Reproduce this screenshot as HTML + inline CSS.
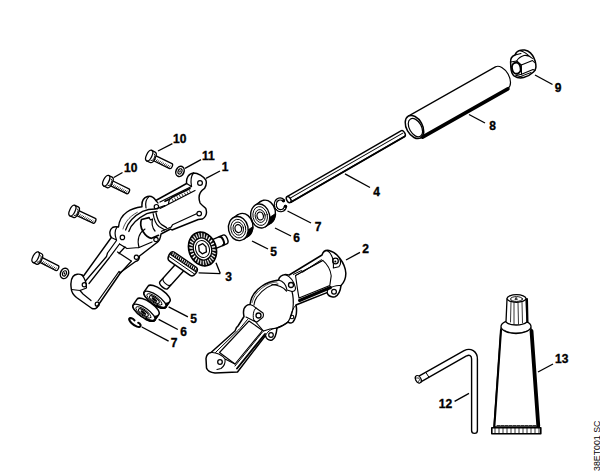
<!DOCTYPE html>
<html><head><meta charset="utf-8">
<style>
html,body{margin:0;padding:0;background:#fff;}
svg{display:block;}
text{font-family:"Liberation Sans",sans-serif;font-weight:bold;font-size:12px;fill:#000;stroke:#000;stroke-width:0.35px;}
</style></head><body>
<svg width="600" height="472" viewBox="0 0 600 472">
<g fill="none" stroke="#000" stroke-width="1.2" stroke-linejoin="round" stroke-linecap="round">

<!-- ===== Tube 8 ===== -->
<g transform="translate(414.5,127) rotate(-29.5)">
  <path d="M0,-12.5 L100,-12.5 A7.5,12.5 0 0 1 100,12.5 L0,12.5" fill="#fff"/>
  <path d="M2,12.8 L100,12.8" stroke-width="3.6"/>
  <ellipse cx="0" cy="0" rx="8" ry="12.5" fill="#fff" stroke-width="1.5"/>
  <ellipse cx="0.5" cy="1" rx="6" ry="10"/>
</g>

<!-- ===== Nut 9 ===== -->
<path d="M510.6,62 C510.3,58.5 512.5,56 515,55 C516,52.5 517.5,51 519.5,50.5 C522,49.5 527,49.5 530.4,52.9 C533,55.5 535,59 535.8,64.3 C536.2,67 535.6,70 533.5,72 C531,74.5 527,76.5 523.6,77.5 C520,78.5 516.5,77.5 514,75.8 C511.8,74 511,71 510.8,67 Z" fill="#fff" stroke-width="1.5"/>
<path d="M510.6,62 L516.7,61 L521.3,65 L521.5,74.3 L516,75.5" stroke-width="1.1"/>
<path d="M515,55 L521,53.5 M516.7,61 C518,58.5 521,56.5 524,55.5 C527,55 530,56 532.5,58.5 M521.3,65 L532.5,60.5 L534.5,62.5 M521.5,74.3 L533,69.5 L535,70.5 M519.5,50.5 C523,51.5 527,53.5 529.5,56.5" stroke-width="1.05"/>
<path d="M516,75.5 L523.6,77.5 M520.5,76.5 L531,72.5" stroke-width="1"/>
<ellipse cx="516.3" cy="68.2" rx="4.3" ry="5.6" transform="rotate(-12 516.3 68.2)" fill="#fff" stroke-width="2"/>

<!-- ===== Rod 4 ===== -->
<g transform="translate(288.7,199.6) rotate(-30)">
  <path d="M0,-3.3 L132,-3.3 A1.8,3.3 0 0 1 132,3.3 L0,3.3" fill="#fff" stroke-width="1.45"/><path d="M1,3.4 L132,3.4" stroke-width="1.8"/>
  <path d="M2,-0.5 L132,-0.5" stroke-width="1"/>
  <ellipse cx="0" cy="0" rx="2" ry="3.3" fill="#fff" stroke-width="1.45"/>
</g>

<!-- ===== Circlip 7 upper ===== -->
<path d="M283.5,200.5 C281,198 276.5,198.5 275.5,203 C274.5,208 278,211.5 282,210.5 C284,210 285,208.5 285.5,206.5" stroke-width="3.2"/><path d="M283.5,200.5 C281,198 276.5,198.5 275.5,203 C274.5,208 278,211.5 282,210.5 C284,210 285,208.5 285.5,206.5" stroke="#fff" stroke-width="1"/><circle cx="283.5" cy="200.8" r="1.5" fill="#000" stroke="none"/><circle cx="285.5" cy="206.3" r="1.6" fill="#000" stroke="none"/>

<!-- ===== Bearing 6 upper ===== -->
<g><ellipse cx="266.00" cy="212.10" rx="9.4" ry="12.1" transform="rotate(-12 266.00 212.10)" fill="#fff" stroke-width="1.4"/>
<path d="M255.06,205.29 L260.86,201.39 L271.14,222.81 L265.34,226.71 Z" fill="#fff" stroke="none"/>
<path d="M255.06,205.29 L260.86,201.39 M265.34,226.71 L271.14,222.81" stroke-width="1.4"/>
<path d="M265.34,226.71 L271.14,222.81 L271.84,222.29 L272.50,221.67 L273.10,220.99 L273.64,220.23 L274.12,219.40 L274.54,218.51 L274.88,217.58 L275.16,216.60 L275.36,215.58 L275.48,214.53 L275.53,213.47 L269.73,217.37 L269.68,218.43 L269.56,219.48 L269.36,220.50 L269.08,221.48 L268.74,222.41 L268.32,223.30 L267.84,224.13 L267.30,224.89 L266.70,225.57 L266.04,226.19 L265.34,226.71Z" fill="#000" stroke="#000" stroke-width="0.8"/>
<ellipse cx="260.2" cy="216" rx="9.4" ry="12.1" transform="rotate(-12 260.2 216)" fill="#fff" stroke-width="1.4"/>
<ellipse cx="260.2" cy="216" rx="7.2" ry="9.5" transform="rotate(-12 260.2 216)" fill="none" stroke-width="0.9"/>
<ellipse cx="260.2" cy="216" rx="5" ry="6.5" transform="rotate(-12 260.2 216)" fill="none" stroke-width="0.9"/>
<ellipse cx="260.2" cy="216" rx="3.2" ry="4" transform="rotate(-12 260.2 216)" fill="none" stroke-width="1.2"/></g>
<!-- ===== Bearing 5 upper ===== -->
<g><ellipse cx="243.10" cy="225.40" rx="9.8" ry="12.1" transform="rotate(-12 243.10 225.40)" fill="#fff" stroke-width="1.4"/>
<path d="M232.97,217.96 L237.77,214.76 L248.43,236.04 L243.63,239.24 Z" fill="#fff" stroke="none"/>
<path d="M232.97,217.96 L237.77,214.76 M243.63,239.24 L248.43,236.04" stroke-width="1.4"/>
<path d="M243.63,239.24 L248.43,236.04 L249.16,235.50 L249.84,234.87 L250.47,234.17 L251.03,233.40 L251.54,232.56 L251.97,231.66 L252.33,230.72 L252.62,229.73 L252.83,228.70 L252.96,227.65 L253.01,226.58 L248.21,229.78 L248.16,230.85 L248.03,231.90 L247.82,232.93 L247.53,233.92 L247.17,234.86 L246.74,235.76 L246.23,236.60 L245.67,237.37 L245.04,238.07 L244.36,238.70 L243.63,239.24Z" fill="#000" stroke="#000" stroke-width="0.8"/>
<ellipse cx="238.3" cy="228.6" rx="9.8" ry="12.1" transform="rotate(-12 238.3 228.6)" fill="#fff" stroke-width="1.4"/>
<ellipse cx="238.3" cy="228.6" rx="7.4" ry="9.4" transform="rotate(-12 238.3 228.6)" fill="none" stroke-width="0.9"/>
<ellipse cx="238.3" cy="228.6" rx="5.2" ry="6.6" transform="rotate(-12 238.3 228.6)" fill="none" stroke-width="0.9"/>
<ellipse cx="238.3" cy="228.6" rx="3.3" ry="4" transform="rotate(-12 238.3 228.6)" fill="none" stroke-width="1.2"/></g>

<!-- ===== Upper crown gear 3 ===== -->
<g id="gear1">
  <g transform="translate(206,247.5) rotate(-23)">
    <path d="M0,-4.8 L20.5,-4.8 A2.6,4.8 0 0 1 20.5,4.8 L0,4.8 Z" fill="#fff" stroke-width="1.4"/>
    <path d="M16.5,-4.6 A2.3,4.6 0 0 1 16.5,4.6" stroke-width="2"/>
  </g>
  <g transform="translate(202.5,249) rotate(-19)">
    <ellipse rx="13.6" ry="17.3" fill="#fff" stroke-width="1.6"/>
    <path d="M9.00,-0.28 L13.58,-1.04 L13.58,1.04 L9.00,0.28Z M8.82,2.24 L13.42,2.85 L13.05,4.88 L8.72,2.79Z M8.20,4.65 L12.58,6.60 L11.88,8.48 L8.01,5.16Z M7.17,6.82 L11.12,10.01 L10.11,11.64 L6.89,7.26Z M5.79,8.66 L9.10,12.93 L7.83,14.23 L5.43,9.01Z M4.11,10.06 L6.62,15.20 L5.16,16.10 L3.70,10.30Z M2.22,10.95 L3.82,16.70 L2.23,17.17 L1.78,11.08Z M0.22,11.30 L0.82,17.37 L-0.82,17.37 L-0.22,11.30Z M-1.78,11.08 L-2.23,17.17 L-3.82,16.70 L-2.22,10.95Z M-3.70,10.30 L-5.16,16.10 L-6.62,15.20 L-4.11,10.06Z M-5.43,9.01 L-7.83,14.23 L-9.10,12.93 L-5.79,8.66Z M-6.89,7.26 L-10.11,11.64 L-11.12,10.01 L-7.17,6.82Z M-8.01,5.16 L-11.88,8.48 L-12.58,6.60 L-8.20,4.65Z M-8.72,2.79 L-13.05,4.88 L-13.42,2.85 L-8.82,2.24Z M-9.00,0.28 L-13.58,1.04 L-13.58,-1.04 L-9.00,-0.28Z M-8.82,-2.24 L-13.42,-2.85 L-13.05,-4.88 L-8.72,-2.79Z M-8.20,-4.65 L-12.58,-6.60 L-11.88,-8.48 L-8.01,-5.16Z M-7.17,-6.82 L-11.12,-10.01 L-10.11,-11.64 L-6.89,-7.26Z M-5.79,-8.66 L-9.10,-12.93 L-7.83,-14.23 L-5.43,-9.01Z M-4.11,-10.06 L-6.62,-15.20 L-5.16,-16.10 L-3.70,-10.30Z M-2.22,-10.95 L-3.82,-16.70 L-2.23,-17.17 L-1.78,-11.08Z M-0.22,-11.30 L-0.82,-17.37 L0.82,-17.37 L0.22,-11.30Z M1.78,-11.08 L2.23,-17.17 L3.82,-16.70 L2.22,-10.95Z M3.70,-10.30 L5.16,-16.10 L6.62,-15.20 L4.11,-10.06Z M5.43,-9.01 L7.83,-14.23 L9.10,-12.93 L5.79,-8.66Z M6.89,-7.26 L10.11,-11.64 L11.12,-10.01 L7.17,-6.82Z M8.01,-5.16 L11.88,-8.48 L12.58,-6.60 L8.20,-4.65Z M8.72,-2.79 L13.05,-4.88 L13.42,-2.85 L8.82,-2.24Z" fill="#000" stroke="#000" stroke-width="0.4"/>
    <ellipse rx="9" ry="11.3" fill="#fff" stroke-width="1.3"/>
    <ellipse rx="6.8" ry="8.6" stroke-width="1"/>
    <path d="M-2.5,-4.5 L2,-5 L4,-1 L2.8,4 L-1.8,4.5 L-3.8,1 Z" stroke-width="1.3"/>
  </g>
</g>

<!-- ===== Lower pinion gear 3 ===== -->
<g id="gear2">
  <g transform="translate(181,266) rotate(132)">
    <path d="M0,-5.2 L25.5,-5.2 A2.6,5.2 0 0 1 25.5,5.2 L0,5.2 Z" fill="#fff" stroke-width="1.4"/>
    <path d="M21,-5 A2.5,5 0 0 1 21,5" stroke-width="1.1"/>
  </g>
  <g transform="translate(182.3,263.8) rotate(34.5)">
    <path d="M-16,-1.5 C-16,-4 -15,-5 -13,-5 L13.5,-5 C15.5,-5 16.5,-3 16.5,0 C16.5,3.5 15.5,5 13,5 L-12,5 C-14.5,5 -16,2.5 -16,-1.5 Z" fill="#fff" stroke-width="1.5"/>
    <path d="M-15.3,-1.5 C-15.3,-3.5 -14.5,-4.3 -13,-4.3 L13.5,-4.3 C15,-4.3 15.8,-3 15.8,-1 L15.8,-0.5 L-15.3,-0.5 Z" fill="#000" stroke="none"/>
    <path d="M-13.50,-3.9 l0.5,1.8 M-11.25,-3.9 l0.5,1.8 M-9.00,-3.9 l0.5,1.8 M-6.75,-3.9 l0.5,1.8 M-4.50,-3.9 l0.5,1.8 M-2.25,-3.9 l0.5,1.8 M0.00,-3.9 l0.5,1.8 M2.25,-3.9 l0.5,1.8 M4.50,-3.9 l0.5,1.8 M6.75,-3.9 l0.5,1.8 M9.00,-3.9 l0.5,1.8 M11.25,-3.9 l0.5,1.8 M13.50,-3.9 l0.5,1.8" stroke="#fff" stroke-width="0.9"/>
    <path d="M-15,1.5 L15.8,1.5" stroke-width="0.9"/>
  </g>
</g>

<!-- ===== Lower bearings ===== -->
<g transform="translate(155,299.5) rotate(35)">
  <path d="M-13.3,0 L-13.3,-7 A13.3,4.8 0 0 1 13.3,-7 L13.3,0 A13.3,4.8 0 0 1 -13.3,0 Z" fill="#fff" stroke-width="1.6"/>
  <path d="M13.3,-6.5 L13.3,0 A13.3,4.8 0 0 1 7,4.2 L7.8,-1.8 C10.5,-2.5 12.5,-4 13.3,-6.5 Z" fill="#000" stroke-width="1"/>
  <ellipse rx="13" ry="4.6" fill="#fff" stroke-width="1.3"/>
  <path d="M13,0 A13,4.6 0 0 1 5,4.2" stroke-width="2.4"/>
  <ellipse cx="-0.5" cy="0.3" rx="9" ry="3.1" stroke-width="0.9"/>
  <ellipse cx="-0.5" cy="0.4" rx="5.8" ry="2.1" stroke-width="1.1"/>
  <ellipse cx="-0.5" cy="0.4" rx="3" ry="1.1" fill="#000" stroke-width="0.6"/>
</g>
<g transform="translate(144,312.5) rotate(35)">
  <path d="M-13.3,0 L-13.3,-7 A13.3,4.8 0 0 1 13.3,-7 L13.3,0 A13.3,4.8 0 0 1 -13.3,0 Z" fill="#fff" stroke-width="1.6"/>
  <path d="M13.3,-6.5 L13.3,0 A13.3,4.8 0 0 1 7,4.2 L7.8,-1.8 C10.5,-2.5 12.5,-4 13.3,-6.5 Z" fill="#000" stroke-width="1"/>
  <ellipse rx="13" ry="4.6" fill="#fff" stroke-width="1.3"/>
  <path d="M13,0 A13,4.6 0 0 1 5,4.2" stroke-width="2.4"/>
  <ellipse cx="-0.5" cy="0.3" rx="9" ry="3.1" stroke-width="0.9"/>
  <ellipse cx="-0.5" cy="0.4" rx="5.8" ry="2.1" stroke-width="1.1"/>
  <ellipse cx="-0.5" cy="0.4" rx="3" ry="1.1" fill="#000" stroke-width="0.6"/>
</g>
<!-- circlip lower -->
<path d="M134.5,320.3 C133,318.3 130,317.5 129.2,318.8 C128.7,321 133,325 137,326.6 C139,327.4 141,327 140.6,325.2 C140.2,324 139.2,323 138.2,322.8" stroke-width="2.1"/>

<!-- ===== Housing 2 ===== -->
<g id="h2">
  <path d="M322,255 C323,251.5 326,250 329,250.5 C333,251.5 337.5,255 340,258.5 C343,262.5 345.5,268 345.8,273 C346,278 344.5,282 341,285.6
           C340.5,290 339,295 335,296.7 C331,297.5 328,295.5 327,292.6 L299,303.7 L296,305 C297,310 296.5,317 293,322 C291,323.5 289,323 288,322
           C285,325 281,326.5 277,328 C276.5,333 275.5,338.5 272,340 C268.5,341 266,338.5 265.5,335.5
           L237.5,372 L215,373 C211,372.5 207.5,371 206.5,368 L206,358.5 C206.5,355 208,353 211,352.5
           L235,331 L236.5,327.5 L238,326 L244,316.5 C243,312 243.5,308 246,306 C247,305 248.5,304.5 250,304.5
           C251,297 256,290 262,286 C267,282.5 272,281 278.5,280 C279,277.5 281,275 285.5,274.5 C286.5,274.5 288,274.8 289.2,275 Z" fill="#fff" stroke-width="1.5"/>
  <!-- top-right ear face -->
  <path d="M327,250.6 C331,252.5 333,258 333.3,263 C333.5,266 333.5,267.5 333.3,268 L338.8,266.7 C341,265 341,262 339.5,258.3" stroke-width="1.1"/>
  <circle cx="335.5" cy="261" r="2.8" stroke-width="1.3"/>
  <circle cx="335.3" cy="261.5" r="1" fill="#000" stroke="none"/>
  <!-- lower-right ear -->
  <path d="M341,285.6 C337,285 333,286 328,289 L327,292.6" stroke-width="1.1"/>
  <circle cx="334" cy="291.8" r="2.4" stroke-width="1.2"/>
  <!-- cylinder top rail -->
  <path d="M293.4,274.4 L301.5,270.5 L302.5,272.3 L321.4,259.7" stroke-width="1"/>
  <path d="M295.5,275.5 L300.4,273 L301.8,271.5 L322.8,260.4" stroke-width="0.8"/>
  <!-- cylinder recess -->
  <path d="M295.5,275.5 L322.8,260.4 C327,264 330.5,270 331.2,275.8 L329.8,285.6 L299,298.1 C297.5,290 296.5,282 295.5,275.5" stroke-width="1.1"/>
  <path d="M299.5,300.5 L330.5,287.5" stroke-width="3"/>
  <!-- mid ear -->
  <path d="M285.5,274.5 C290,276.5 294,281 295.5,288 C295.5,290 294,291.5 292,291.5 M278.5,280 C283,281 286,284 287,290 L292,291.5" stroke-width="1.1"/>
  <circle cx="291" cy="285" r="2.5" stroke-width="1.3"/>
  <!-- dome -->
  <path d="M272,284.5 C278,285 283,287 286.5,291 M292,291.5 C293.5,297 293.5,303 293,308 C292.5,313 291,317 288,322" stroke-width="1.2"/>
  <path d="M278,284 C270,284.5 263,289 257,297 C255,300 254,303 254,305" stroke-width="1.1"/>
  <path d="M277,282 C269,282.5 262,287 256,294 C254,297 252.5,300.5 252,303" stroke-width="0.7" stroke-dasharray="0.8 0.8"/>
  <!-- right small ear -->
  <path d="M296,305 C293,308 291,313 290.5,317" stroke-width="1"/>
  <circle cx="292" cy="317" r="1.8" stroke-width="1.1"/>
  <!-- left ear block -->
  <path d="M250,304.5 C253.5,305.5 256,308 256,308 L263,313 C264,315 263,318 262,318 L257,322 L254,321 L246,317" stroke-width="1.1"/>
  <path d="M256,308 C253,310 252.5,317 254,321" stroke-width="1"/>
  <circle cx="258.5" cy="315.5" r="2.5" stroke-width="1.3"/>
  <!-- bottom ear -->
  <path d="M277,328 C273,328.5 268,330 265.5,335.5" stroke-width="1"/>
  <circle cx="271" cy="335" r="2.3" stroke-width="1.2"/>
  <!-- dome bottom edge -->
  <path d="M288,322 C284,325 281,326.5 277,328 L270,329 L263.5,331" stroke-width="1.1"/>
  <path d="M254,320 L263.5,331" stroke-width="1.1"/>
  <!-- arm recess -->
  <path d="M247.5,319.5 L240,328.5 L238.5,330 L215.5,352.5" stroke-width="1"/>
  <path d="M249,321 L262.5,330.5 L235,364 L219.5,352.5 Z" stroke-width="1.1"/>
  <path d="M262.5,332 L235,366" stroke-width="1"/>
  <path d="M265,334 L237,368.5" stroke-width="1.9"/>
  <!-- bottom-left ear -->
  <path d="M211,352.5 C216,352 222,355 225,359 C225.5,363 224.5,366 221,368.5 L217,369.5 M225,359 L235,364" stroke-width="1.1"/>
  <circle cx="220" cy="362" r="2.3" stroke-width="1.3"/>
</g>

<!-- ===== Tube 13 ===== -->
<g id="tube13">
  <path d="M501,328 L494,427 L538,427 L531,328" fill="#fff" stroke-width="1.3"/><path d="M501,330 L494.3,427" stroke-width="2.1"/>
  <path d="M531.5,331 L538.3,426" stroke-width="3.8"/>
  <ellipse cx="516" cy="326.5" rx="15" ry="7" fill="#fff" stroke-width="1.3"/>
  <path d="M504,330 C510,334 522,334 529,330" stroke-width="0.8" stroke-dasharray="2 1"/>
  <path d="M507,299 L506,322 C510,326 522,326 527,322 L526,299" fill="#fff" stroke-width="1.3"/>
  <path d="M527,299 L527.5,322" stroke-width="2"/>
  <ellipse cx="516.5" cy="298.5" rx="9.5" ry="3.8" fill="#fff" stroke-width="1.3"/>
  <ellipse cx="516.5" cy="299" rx="6" ry="2.4" stroke-width="0.9"/>
  <path d="M516,297.5 l-1.2,2 l2.4,0 z" fill="#000" stroke-width="0.5"/>
  <path d="M511,302 L510.5,322 M514,302.5 L514,324 M518,302.5 L518.5,324 M522,302 L522.5,323" stroke-width="0.8"/>
  <rect x="491.8" y="427.8" width="49" height="6" fill="#fff" stroke-width="1.6"/>
  <path d="M495,428 L495,433 M499,428 L499,433 M503,428 L503,433 M507,428 L507,433 M511,428 L511,433 M515,428 L515,433 M519,428 L519,433 M523,428 L523,433 M527,428 L527,433 M531,428 L531,433 M535,428 L535,433 M539,428 L539,433" stroke-width="0.8"/>
  <path d="M497,425.5 L537,425.5" stroke-width="0.8" stroke-dasharray="3 1"/>
</g>

<!-- ===== Key 12 ===== -->
<g id="key12">
  <path d="M419,379.5 L465.5,353.2 C470,350.8 474.5,353.5 474.5,359 L474.5,430.5" stroke-width="7.2" stroke-linecap="round"/>
  <path d="M419,379.5 L465.5,353.2 C470,350.8 474.5,353.5 474.5,359 L474.5,430.5" stroke="#fff" stroke-width="4.4" stroke-linecap="round"/>
  <path d="M426,372.6 L428.8,377" stroke-width="1"/>
  <g transform="translate(418.3,379.3) rotate(-29)"><ellipse rx="2.6" ry="4" fill="#fff" stroke-width="1.2"/><path d="M-1,-2 L1,-1 L1,1 L-1,2" stroke-width="0.7"/></g>
</g>
<!-- ===== Bolts 10 ===== -->
<defs>
<g id="boltshape">
  <path d="M4,-2.7 L24,-2.7 A1.5,2.7 0 0 1 24,2.7 L4,2.7" fill="#fff" stroke-width="1.3"/>
  <path d="M6.5,2.5 l0.8,-2.2 M8.3,2.5 l0.8,-2.2 M10.1,2.5 l0.8,-2.2 M11.9,2.5 l0.8,-2.2 M13.7,2.5 l0.8,-2.2 M15.5,2.5 l0.8,-2.2 M17.3,2.5 l0.8,-2.2 M19.1,2.5 l0.8,-2.2 M20.9,2.5 l0.8,-2.2 M22.7,2.5 l0.8,-2.2" stroke-width="0.75"/>
  <path d="M0,-5.8 L3.8,-5.8 A2.7,5.8 0 0 1 3.8,5.8 L0,5.8" fill="#fff" stroke-width="1.3"/>
  <ellipse cx="0" cy="0" rx="2.7" ry="5.8" fill="#fff" stroke-width="1.3"/>
  <path d="M3.8,-3.8 A1.8,3.8 0 0 1 3.8,3.8" stroke-width="0.8"/>
</g>
</defs>
<use href="#boltshape" transform="translate(149.2,155.6) rotate(26)"/>
<use href="#boltshape" transform="translate(106.2,180.7) rotate(26)"/>
<use href="#boltshape" transform="translate(72.4,210.6) rotate(25)"/>
<use href="#boltshape" transform="translate(35.6,257.2) rotate(27)"/>
<!-- washers -->
<g transform="translate(180,171.4) rotate(22)"><ellipse rx="4.0" ry="5.3" fill="#fff" stroke-width="1.5"/><ellipse rx="1.9" ry="2.8" stroke-width="1.1"/><ellipse rx="0.7" ry="1.2" fill="#000" stroke="none"/></g>
<g transform="translate(64.5,273.4) rotate(20)"><ellipse rx="4.0" ry="5.3" fill="#fff" stroke-width="1.5"/><ellipse rx="1.9" ry="2.8" stroke-width="1.1"/><ellipse rx="0.7" ry="1.2" fill="#000" stroke="none"/></g>

<!-- ===== Housing 1 ===== -->
<g id="h1">
  <path d="M186.6,183.5 C186,178 188.5,173.5 193.5,173 C198,173 203.5,176.5 205.8,180 C206.8,182.5 206,186 204.6,188.4
           C199,192 198,197 200,202.8 C201.5,205 204,206.5 205.8,208.5 C207,212 206.5,216.5 202.5,219 L198.3,219.5
           L172,230 L170.5,229 L161,234 C160.5,238 160,241 157,242.5 L139.5,256 C139.5,259 138.5,261 135.5,261.5
           L121,272 L98,305.5 C97.5,308 95,309.5 92,308.5 L76.5,297.5 C73.5,295 71.5,292 71.3,289
           C70.5,284 71,279 73,276.5 C75,274 79,273.5 82,275 L83.5,276
           L111.3,237.5 C109,234 109.5,229.5 112.5,227.5 C114.5,226.5 117,226.8 118.5,227
           C119,221 122,215.5 127,212 C132,208.5 137,207.5 142,206.8
           C141.5,202 143,198 147.5,196.5 C151,195.5 154,197.5 155.8,200.5 L186.6,183.5 Z" fill="#fff" stroke-width="1.45"/>
  <!-- holes -->
  <circle cx="200" cy="183" r="2.4" stroke-width="1.20"/>
  <circle cx="199.2" cy="213.6" r="2.3" stroke-width="1.20"/>
  <circle cx="156.4" cy="206.7" r="2.2" stroke-width="1.20"/>
  <circle cx="156" cy="239.5" r="2.2" stroke-width="1.20"/>
  <circle cx="122.4" cy="237.4" r="2.2" stroke-width="1.20"/>
  <circle cx="136.4" cy="257.3" r="2.1" stroke-width="1.20"/>
  <circle cx="84.3" cy="284.8" r="2.1" stroke-width="1.20"/>
  <circle cx="97.2" cy="304.2" r="2" stroke-width="1.20"/>
  <!-- top-right ear face -->
  <path d="M193.5,173 C191,176 190.5,181 191.5,186.5 M186.6,183.5 L191.5,186.5" stroke-width="1.20"/>
  <!-- top rail strip -->
  <path d="M191.5,186.5 L160,202 M195,190.5 L164,206.5 L160,208.5" stroke-width="1.25"/>
  <path d="M190,188.5 L172,197.3 L170,199 L165,201.3" stroke-width="1.60"/>
  <path d="M172,199 l1.2,2 M174.5,197.8 l1.2,2 M177,196.6 l1.2,2 M179.5,195.4 l1.2,2 M182,194.2 l1.2,2 M184.5,193 l1.2,2 M187,191.8 l1.2,2 M189.5,190.6 l1.2,2" stroke-width="0.80"/>
  <path d="M169.5,199.2 L168.5,203.5 M158,203 L155.8,200.5" stroke-width="1.20"/>
  <!-- top-left ear face -->
  <path d="M149,196.6 C146,199 145,203 146,208" stroke-width="1.20"/>
  <!-- dome flange strip -->
  <path d="M125.6,230 C128,222 134,216 142.6,211.4 C146,210 150,209 155,209 L164.8,205.6" stroke-width="1.30"/>
  <path d="M128.8,231.5 C131,224 136.2,219 146.8,213.6 C150,212.5 153,212 157,211.5" stroke-width="1.30"/>
  <path d="M123,229 C125,222 130,216 138,212" stroke-width="0.70" stroke-dasharray="1 0.8"/>
  <!-- dark slot -->
  <path d="M149,217.6 L141.5,219.5 C140,223 141,228 143,231.5 C145.5,235.5 149,238 151.5,238.3 L158.5,235.3" stroke-width="1.70"/>
  <path d="M149,217.6 L150.5,220 L152.5,219 C151.5,223 152.5,228 155,231" stroke-width="1.20"/>
  <!-- semi-cylinder crescent -->
  <path d="M153.1,213.5 C154,219 155.5,224 158.9,226.5 L164.6,229.8" stroke-width="1.20"/>
  <path d="M156,212.8 C157,218 158.5,222.5 161.7,224.6 L166.5,227.6" stroke-width="1.30"/>
  <!-- bottom strip -->
  <path d="M196.5,213.8 L172.5,224.8 L171.3,227 L161.5,231.3" stroke-width="1.25"/>
  <!-- mid-left ear face -->
  <path d="M117,227 C115,230 114.5,235 116.5,240 L111.3,237.5" stroke-width="1.20"/>
  <!-- arm top rail -->
  <path d="M116.5,240.5 L107.5,253 L106.5,256.5 L85.5,281" stroke-width="1.25"/>
  <path d="M119.5,244 L109.5,257.5 L89,283.5" stroke-width="1.25"/>
  <!-- cross ribs -->
  <path d="M119.5,244 L127,248.5 L139,247.5 M139,247.5 L152,242" stroke-width="1.25"/>
  <path d="M117.5,252 L130.5,260.5 M125,247 L119,253.5" stroke-width="1.25"/>
  <path d="M139,247.5 C137,240 139,233 145,229" stroke-width="1.10"/>
  <!-- arm bottom rail -->
  <path d="M131.5,261 L120.5,273 L119,271.5 L98,301" stroke-width="1.25"/>
  <!-- bottom-left ear face -->
  <path d="M82,275 C84.5,278 86.5,283 86.5,288 L80,290.5 L71.5,289.5 M80,290.5 L83,294 L91,300.5" stroke-width="1.20"/>
  
</g>



</g>

<!-- leader lines -->
<g stroke="#000" stroke-width="1.35" fill="none">
  <path d="M535,75 L552.5,84.5"/>
  <path d="M469,114.5 L485,123"/>
  <path d="M345,173.8 L370,187.5"/>
  <path d="M287.5,211 L311,223"/>
  <path d="M275,228 L291,236"/>
  <path d="M252,241 L268,249"/>
  <path d="M158,151 L172.4,143.6"/>
  <path d="M185,168.4 L201,159.6"/>
  <path d="M206,178.4 L220,171"/>
  <path d="M113.8,177.5 L122.5,172.5"/>
  <path d="M220.3,273.6 L216,262.7 M220.3,273.6 L198.6,272.8"/>
  <path d="M346,260 L360,252.4"/>
  <path d="M168.6,306.9 L187.9,316.9"/>
  <path d="M158.6,319.4 L177.8,329.5"/>
  <path d="M141.8,327 L168.6,341.2"/>
  <path d="M538,372 L553,364"/>
  <path d="M454.6,401.3 L469,393.3"/>
</g>

<!-- labels -->
<g text-anchor="middle">
  <text x="558.2" y="91.8">9</text>
  <text x="492.7" y="129.8">8</text>
  <text x="376.7" y="196.3">4</text>
  <text x="318.2" y="231.3">7</text>
  <text x="296.7" y="242.3">6</text>
  <text x="273.7" y="255.9">5</text>
  <text x="179.7" y="142.7">10</text>
  <text x="208.3" y="159.9">11</text>
  <text x="225.1" y="171.3">1</text>
  <text x="130.7" y="171.8">10</text>
  <text x="228.7" y="281.3">3</text>
  <text x="365.7" y="253.3">2</text>
  <text x="193.6" y="322.9">5</text>
  <text x="183.6" y="336.3">6</text>
  <text x="174.0" y="347.2">7</text>
  <text x="561.7" y="363.3">13</text>
  <text x="445.5" y="407.9">12</text>
</g>
<text transform="translate(599.8,471) rotate(-90)" style="font-weight:normal;font-size:8.8px;stroke-width:0">38ET001 SC</text>
</svg>
</body></html>
